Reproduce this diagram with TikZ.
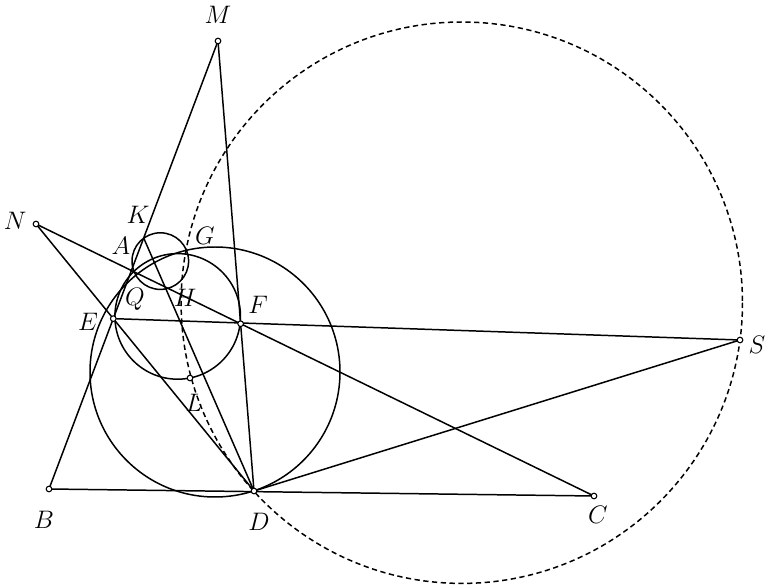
\documentclass[tikz,border=0pt]{standalone}
\usepackage{tikz}
\tikzset{
  pt/.style={circle,draw,fill=white,inner sep=0pt,minimum size=3.2pt,line width=0.6pt},
  lbl/.style={inner sep=0pt,font=\fontsize{14}{16}\selectfont},
  dashcirc/.style={dash pattern=on 3pt off 2pt}
}
\begin{document}
\begin{tikzpicture}[x=0.02cm,y=-0.02cm,line width=0.85pt]
\useasboundingbox (0,0) rectangle (769,588);
\coordinate (B) at (49,489);
\coordinate (C) at (594,496);
\coordinate (D) at (254,491);
\coordinate (M) at (218,41);
\coordinate (N) at (36,224);
\coordinate (S) at (740,340);
\coordinate (K) at (143.7,238);
\coordinate (G) at (187,252);
\coordinate (L) at (190,378);
\coordinate (A) at (intersection of B--M and N--C);
\coordinate (F) at (intersection of M--D and N--C);
\coordinate (E) at (intersection of B--M and N--D);
\coordinate (H) at (intersection of K--D and N--C);
\coordinate (Q) at (138,276);

\draw (160.3,261.1) circle[radius=28.3];
\draw (177.7,316.4) circle[radius=62.8];
\draw (215,372) circle[radius=125];
\draw[dashcirc] (461.8,302.7) circle[radius=280.7];

\draw (B) -- (M);
\draw (M) -- (D);
\draw (N) -- (C);
\draw (N) -- (D);
\draw (K) -- (D);
\draw (E) -- (S);
\draw (D) -- (S);
\draw (B) -- (C);

\foreach \p in {M,N,B,C,S,D,L,E,F}
  \node[pt] (pt\p) at (\p) {};

\node[lbl] (lM) at (218,15) {$M$};
\node[lbl] (lN) at (15,221) {$N$};
\node[lbl] (lK) at (138,215) {$K$};
\node[lbl] (lA) at (121,246) {$A$};
\node[lbl] (lG) at (205,236) {$G$};
\node[lbl] (lQ) at (135,299) {$Q$};
\node[lbl] (lH) at (185,298) {$H$};
\node[lbl] (lF) at (258,305) {$F$};
\node[lbl] (lE) at (88,322) {$E$};
\node[lbl] (lS) at (757,345) {$S$};
\node[lbl] (lL) at (194,403) {$L$};
\node[lbl] (lB) at (44,520) {$B$};
\node[lbl] (lD) at (259,522) {$D$};
\node[lbl] (lC) at (598,515) {$C$};
\end{tikzpicture}
\end{document}
